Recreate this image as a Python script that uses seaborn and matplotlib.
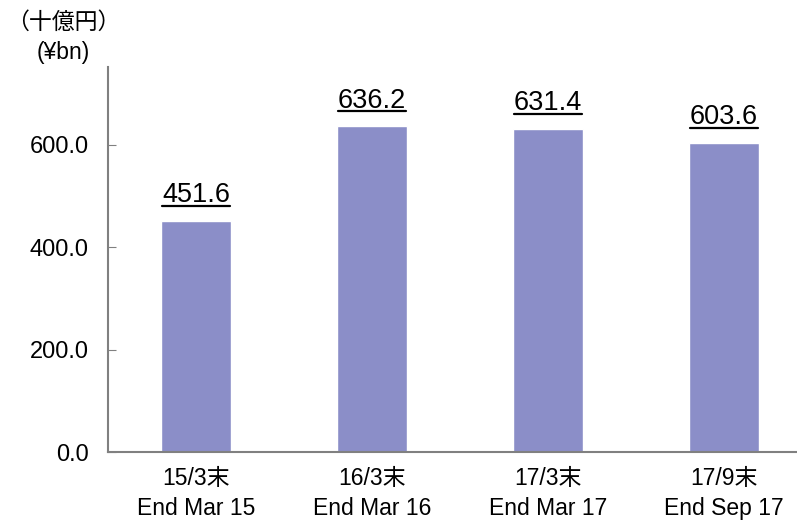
import numpy as np
import pandas as pd
import matplotlib
matplotlib.use('Agg')
import matplotlib.pyplot as plt
import seaborn as sns
from matplotlib.lines import Line2D

# data
periods_jp = ['15/3末', '16/3末', '17/3末', '17/9末']
periods_en = ['End Mar 15', 'End Mar 16', 'End Mar 17', 'End Sep 17']
values = [451.6, 636.2, 631.4, 603.6]
yticks = [0, 200, 400, 600]

sns.set_style('white')
plt.rcParams['font.family'] = ['Liberation Sans', 'Noto Sans CJK JP', 'DejaVu Sans']
plt.rcParams['text.color'] = 'black'
plt.rcParams['xtick.color'] = 'black'
plt.rcParams['ytick.color'] = 'black'

labels = [j + '\n' + e for j, e in zip(periods_jp, periods_en)]
df = pd.DataFrame({'period': labels, 'value': values})

fig = plt.figure(figsize=(7.97, 5.21), dpi=100)
ax = fig.add_axes([0.1355, 0.1324, 0.883, 0.739])

sns.barplot(data=df, x='period', y='value', color='#8B8EC8', width=0.4,
            saturation=1, ax=ax)

ax.set_xlim(-0.5, 3.5)
ax.set_ylim(0, 752)
ax.set_yticks(yticks)
ax.set_yticklabels(['{:.1f}'.format(v) for v in yticks], fontsize=17)
ax.set_xticks(range(len(labels)))
ax.set_xticklabels(labels, fontsize=16.5, linespacing=1.4)
ax.set_xlabel('')
ax.set_ylabel('')
ax.tick_params(axis='y', direction='in', length=6, color='#808080', pad=14, left=True)
ax.tick_params(axis='x', length=0, pad=11)

for s in ['top', 'right']:
    ax.spines[s].set_visible(False)
for s in ['left', 'bottom']:
    ax.spines[s].set_color('#808080')
    ax.spines[s].set_linewidth(1.5)

# value labels, underlined
texts = []
for i, v in enumerate(values):
    t = ax.annotate('{:.1f}'.format(v), (i, v), xytext=(0, 9), textcoords='offset points',
                    ha='center', va='bottom', fontsize=19.5)
    texts.append(t)

fig.canvas.draw()
r = fig.canvas.get_renderer()
for t in texts:
    bb = t.get_window_extent(r).transformed(fig.transFigure.inverted())
    y = bb.y0 + 0.005
    fig.add_artist(Line2D([bb.x0, bb.x1], [y, y], color='black', lw=1.6,
                          transform=fig.transFigure))

fig.text(0.079, 0.958, '（十億円）', ha='center', va='center', fontsize=16.5)
fig.text(0.079, 0.90, '(¥bn)', ha='center', va='center', fontsize=16.5)

fig.savefig('out.png', dpi=100)
